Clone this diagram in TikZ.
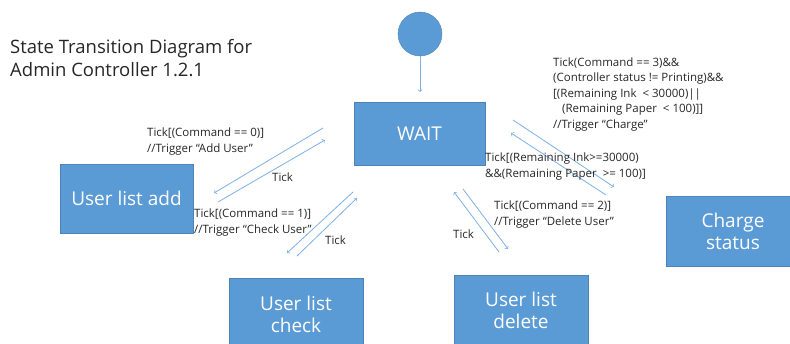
\documentclass[tikz,border=0pt]{standalone}
\usepackage{fontspec}
\setmainfont{Open Sans}
\definecolor{stateblue}{RGB}{91,155,213}
\definecolor{flowblue}{RGB}{125,175,228}
\tikzset{
  state/.style={draw=stateblue!85!black, line width=0.5pt, fill=stateblue, text=white,
    align=center, font=\fontsize{19}{22}\selectfont},
  flow/.style={->, draw=flowblue, line width=0.8pt},
  note/.style={anchor=base west, inner sep=0pt, align=left, text=black!85,
    font=\fontsize{11.5}{15.5}\selectfont}
}
\begin{document}
\begin{tikzpicture}[x=1pt,y=-1pt]
  \useasboundingbox (0,0) rectangle (790,343);
  \clip (0,0) rectangle (790,343);
  % title (base = last line)
  \node[note, font=\fontsize{18.5}{23}\selectfont] (title) at (10,76)
    {State Transition Diagram for\\Admin Controller 1.2.1};
  % states
  \node[circle, fill=stateblue, draw=stateblue!85!black, minimum size=44pt, inner sep=0pt] (init) at (420,34) {};
  \node[state, minimum width=131pt, minimum height=63pt] (wait) at (419.5,133.5) {WAIT};
  \node[state, minimum width=133pt, minimum height=69pt] (useradd) at (126.5,198.5) {User list add};
  \node[state, minimum width=134pt, minimum height=72pt] (usercheck) at (296,314) {User list\\check};
  \node[state, minimum width=134pt, minimum height=70pt] (userdelete) at (521,310) {User list\\delete};
  \node[state, minimum width=133pt, minimum height=70pt] (charge) at (733,231) {Charge\\status};
  % arrow ends
  \coordinate (initend) at (420,92);
  \coordinate (waitadd1) at (323,128);
  \coordinate (waitadd2) at (214,193);
  \coordinate (addwait1) at (218,202);
  \coordinate (addwait2) at (325,140);
  \coordinate (waitcheck1) at (353,192);
  \coordinate (waitcheck2) at (287,253);
  \coordinate (checkwait1) at (297,256);
  \coordinate (checkwait2) at (357,198);
  \coordinate (waitdel1) at (463,189);
  \coordinate (waitdel2) at (508,249);
  \coordinate (delwait1) at (499,252);
  \coordinate (delwait2) at (454,192);
  \coordinate (waitcharge1) at (513,120);
  \coordinate (waitcharge2) at (614,187);
  \coordinate (chargewait1) at (606,195);
  \coordinate (chargewait2) at (511,133);
  % transitions
  \draw[flow] (init.south) -- (initend);
  \draw[flow] (waitadd1) -- (waitadd2);
  \draw[flow] (addwait1) -- (addwait2);
  \draw[flow] (waitcheck1) -- (waitcheck2);
  \draw[flow] (checkwait1) -- (checkwait2);
  \draw[flow] (waitdel1) -- (waitdel2);
  \draw[flow] (delwait1) -- (delwait2);
  \draw[flow] (waitcharge1) -- (waitcharge2);
  \draw[flow] (chargewait1) -- (chargewait2);
  % guards (base = last line)
  \node[note] (addguard) at (147,152) {Tick[(Command == 0)]\\//Trigger ``Add User''};
  \node[note] (addtick) at (272,181) {Tick};
  \node[note] (checkguard) at (194,233) {Tick[(Command == 1)]\\//Trigger ``Check User''};
  \node[note] (checktick) at (325,244) {Tick};
  \node[note] (delguard) at (494,225) {Tick[(Command == 2)]\\//Trigger ``Delete User''};
  \node[note] (deltick) at (453,238) {Tick};
  \node[note] (chargeguard) at (553,128) {Tick(Command == 3)\&\&\\(Controller status != Printing)\&\&\\{[}(Remaining Ink \ < 30000)||\\\hspace*{9pt}(Remaining Paper \ < 100)]]\\//Trigger ``Charge''};
  \node[note] (backguard) at (485,177) {Tick[(Remaining Ink>=30000)\\\&\&(Remaining Paper \ >= 100)]};
\end{tikzpicture}
\end{document}
